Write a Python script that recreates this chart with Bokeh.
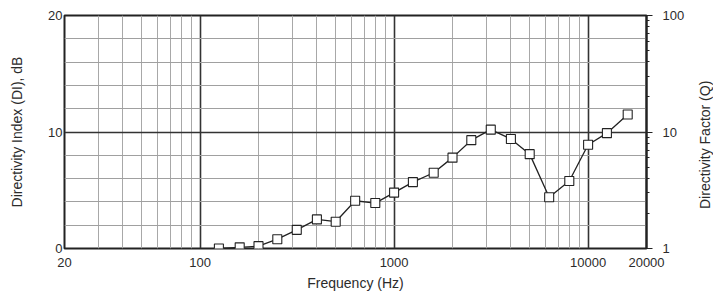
from bokeh.plotting import figure
from bokeh.models import FixedTicker, LogAxis, Range1d, Grid, LogScale, Div
from bokeh.layouts import row
from bokeh.embed import file_html
from bokeh.resources import INLINE

# ---- data ----
freq_hz = [125, 160, 200, 250, 315, 400, 500, 630, 800, 1000, 1250, 1600,
           2000, 2500, 3150, 4000, 5000, 6300, 8000, 10000, 12500, 16000]
di_db = [0.0, 0.1, 0.2, 0.8, 1.6, 2.5, 2.3, 4.1, 3.9, 4.8, 5.7, 6.5,
         7.8, 9.3, 10.2, 9.4, 8.1, 4.4, 5.8, 8.9, 9.9, 11.5]

x_ticks = [20, 100, 1000, 10000, 20000]
x_tick_labels = ["20", "100", "1000", "10000", "20000"]
y_ticks = [0, 10, 20]
q_ticks = [1, 10, 100]
q_tick_labels = ["1", "10", "100"]

FONT = "Liberation Sans"
TXT = "#2b2b2b"

p = figure(width=692, height=295, x_axis_type="log",
           x_range=(20, 20000), y_range=(0, 20),
           output_backend="svg", toolbar_location=None,
           min_border_left=64, min_border_right=46,
           min_border_top=15, min_border_bottom=47)
p.background_fill_color = "white"
p.border_fill_color = "white"
p.outline_line_color = "#222222"
p.outline_line_width = 2

p.xgrid.visible = False
p.ygrid.visible = False

x_minor = [m * d for d in (10, 100, 1000, 10000) for m in range(2, 10)
           if 20 < m * d < 20000]
gx = Grid(dimension=0, ticker=FixedTicker(ticks=[100, 1000, 10000], minor_ticks=x_minor),
          grid_line_color="#333333", grid_line_width=1.6,
          minor_grid_line_color="#a8a8a8", minor_grid_line_width=1)
gy = Grid(dimension=1, ticker=FixedTicker(ticks=[10], minor_ticks=[2, 4, 6, 8, 12, 14, 16, 18]),
          grid_line_color="#333333", grid_line_width=1.6,
          minor_grid_line_color="#a0a0a0", minor_grid_line_width=1)
p.add_layout(gx)
p.add_layout(gy)

p.line(freq_hz, di_db, line_color="#222222", line_width=1.3)
p.scatter(freq_hz, di_db, marker="square", size=9, fill_color="white",
          line_color="#222222", line_width=1.1)

xa = p.xaxis[0]
xa.ticker = FixedTicker(ticks=x_ticks, minor_ticks=[])
xa.major_label_overrides = {t: l for t, l in zip(x_ticks, x_tick_labels)}
xa.major_tick_out = 0
xa.major_tick_in = 0
xa.minor_tick_out = 0
xa.axis_line_color = None
xa.major_label_standoff = 9
xa.axis_label = "Frequency (Hz)"
xa.axis_label_standoff = 5

ya = p.yaxis[0]
ya.ticker = FixedTicker(ticks=y_ticks, minor_ticks=[])
ya.major_tick_out = 0
ya.major_tick_in = 0
ya.minor_tick_out = 0
ya.axis_line_color = None
ya.major_label_standoff = 2
ya.axis_label = "Directivity Index (DI), dB"
ya.axis_label_standoff = 20

p.extra_y_ranges = {"q": Range1d(1, 100)}
p.extra_y_scales = {"q": LogScale()}
q_minor = [m * d for d in (1, 10) for m in range(2, 10)]
ra = LogAxis(y_range_name="q",
             ticker=FixedTicker(ticks=q_ticks, minor_ticks=q_minor))
ra.major_label_overrides = {t: l for t, l in zip(q_ticks, q_tick_labels)}
ra.major_tick_out = 6
ra.major_tick_in = 0
ra.minor_tick_out = 3
ra.minor_tick_in = 0
ra.major_tick_line_color = "#222222"
ra.minor_tick_line_color = "#222222"
ra.axis_line_color = "#222222"
ra.axis_line_width = 2
ra.major_label_standoff = 10
p.add_layout(ra, "right")

for ax in (xa, ya, ra):
    ax.major_label_text_font = FONT
    ax.major_label_text_font_size = "13px"
    ax.major_label_text_color = TXT
    ax.axis_label_text_font = FONT
    ax.axis_label_text_font_size = "14px"
    ax.axis_label_text_font_style = "normal"
    ax.axis_label_text_color = TXT

# right-hand title reading bottom-to-top, like the left one
q_title = Div(text="Directivity Factor (Q)", width=23, height=280,
              styles={"writing-mode": "vertical-rl",
                      "transform": "rotate(180deg)",
                      "text-align": "center",
                      "font-family": FONT,
                      "font-size": "14px",
                      "line-height": "16px",
                      "color": TXT,
                      "white-space": "nowrap"})

layout = row(p, q_title)
open("out.html", "w").write(file_html(layout, INLINE))
